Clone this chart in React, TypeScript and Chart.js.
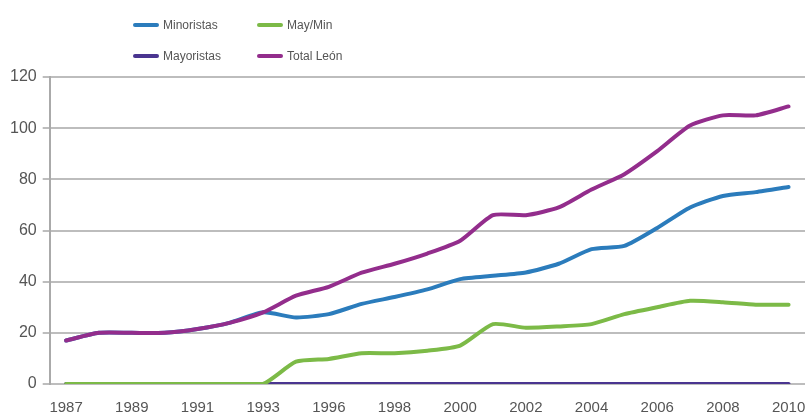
import React, { useEffect, useRef } from 'react';
import { Chart, registerables } from 'chart.js';
Chart.register(...registerables);

const years = ['1987', '1988', '1989', '1990', '1991', '1992', '1993', '1994', '1996', '1997', '1998', '1999', '2000', '2001', '2002', '2003', '2004', '2005', '2006', '2007', '2008', '2009', '2010'];
const totalLeon = [17, 20, 20, 20, 21.5, 24, 28, 34.5, 38, 43.5, 47, 51, 56, 66, 66, 69, 76, 82, 91, 101, 105, 105, 108.5];
const minoristas = [17, 20, 20, 20, 21.5, 24, 28, 26, 27.3, 31.3, 34, 37, 41, 42.3, 43.6, 47, 52.7, 54, 61, 69, 73.5, 75, 77];
const mayMin = [0, 0, 0, 0, 0, 0, 0, 8.7, 9.8, 12, 12, 13, 15, 23.4, 22, 22.5, 23.4, 27.3, 30, 32.5, 32, 31, 31];
const mayoristas = [0, 0, 0, 0, 0, 0, 0, 0, 0, 0, 0, 0, 0, 0, 0, 0, 0, 0, 0, 0, 0, 0, 0];

const yTicks = { min: 0, max: 120, step: 20 };

const C_MIN = '#2b7cbc';
const C_MAYMIN = '#7cba47';
const C_MAY = '#4a3590';
const C_TOTAL = '#932d8c';

const FONT = '"Liberation Sans", Arial, sans-serif';

const legendItems = [
  { label: 'Minoristas', color: C_MIN, left: 133, top: 25 },
  { label: 'May/Min', color: C_MAYMIN, left: 257, top: 25 },
  { label: 'Mayoristas', color: C_MAY, left: 133, top: 56 },
  { label: 'Total León', color: C_TOTAL, left: 257, top: 56 },
];

export default function App() {
  const ref = useRef<HTMLCanvasElement>(null);
  useEffect(() => {
    document.body.style.margin = '0';
    const ds = (label: string, data: number[], color: string) => ({
      label,
      data,
      borderColor: color,
      backgroundColor: color,
      borderWidth: 4,
      pointRadius: 0,
      tension: 0.2,
      borderCapStyle: 'round' as const,
      borderJoinStyle: 'round' as const,
      fill: false,
    });
    const chart = new Chart(ref.current!, {
      type: 'line',
      data: {
        labels: years,
        datasets: [
          ds('Total León', totalLeon, C_TOTAL),
          ds('Minoristas', minoristas, C_MIN),
          ds('May/Min', mayMin, C_MAYMIN),
          ds('Mayoristas', mayoristas, C_MAY),
        ],
      },
      options: {
        responsive: false,
        maintainAspectRatio: false,
        animation: false,
        devicePixelRatio: 1,
        layout: { padding: { left: 4, right: 0, top: 77, bottom: -16 } },
        plugins: { legend: { display: false }, tooltip: { enabled: false } },
        scales: {
          x: {
            type: 'category',
            offset: true,
            afterFit: (s: any) => {
              s.paddingLeft = 0;
              s.paddingRight = 0;
            },
            grid: { display: false, drawTicks: false },
            border: { display: false },
            ticks: {
              autoSkip: false,
              maxRotation: 0,
              padding: 16,
              color: '#555',
              font: { family: FONT, size: 15, lineHeight: 1 },
              callback: (_v: any, i: number) => (i % 2 === 0 ? years[i] : ''),
            },
          },
          y: {
            min: yTicks.min,
            max: yTicks.max,
            ticks: {
              stepSize: yTicks.step,
              padding: 6,
              color: '#555',
              font: { family: FONT, size: 16 },
            },
            grid: { color: '#bdbdbd', lineWidth: 2, tickLength: 7, tickColor: '#bdbdbd' },
            border: { color: '#aaaaaa', width: 2 },
          },
        },
      },
    });
    return () => chart.destroy();
  }, []);
  return (
    <div style={{ position: 'relative', width: 805, height: 415, background: '#fff', fontFamily: FONT, overflow: 'hidden' }}>
      <canvas ref={ref} width={805} height={415} style={{ position: 'absolute', left: 0, top: 0 }} />
      {legendItems.map((it) => (
        <div key={it.label} style={{ position: 'absolute', left: it.left, top: it.top - 8, height: 16, display: 'flex', alignItems: 'center' }}>
          <span style={{ display: 'inline-block', width: 26, height: 4, borderRadius: 2, background: it.color, marginRight: 4 }} />
          <span style={{ fontSize: 12, color: '#555', whiteSpace: 'nowrap' }}>{it.label}</span>
        </div>
      ))}
    </div>
  );
}
